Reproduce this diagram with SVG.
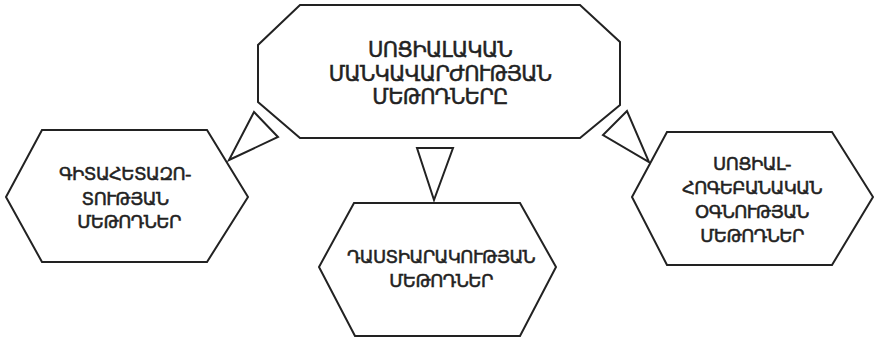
<svg xmlns="http://www.w3.org/2000/svg" width="875" height="339" viewBox="0 0 875 339">
<style>
.shape{fill:#fff;stroke:#222;stroke-width:2;stroke-linejoin:miter}
.arrow{fill:#fff;stroke:#222;stroke-width:2;stroke-linejoin:miter}
text{font-family:"DejaVu Sans","Noto Sans",sans-serif;fill:#222;stroke:#222;stroke-width:0.5;text-anchor:middle}
.big{font-size:21px;letter-spacing:-0.7px}
.small{font-size:18px;letter-spacing:-0.6px}
</style>
<rect width="875" height="339" fill="#fff"/>
<g id="node-main">
<polygon class="shape" points="300,5 580,5 620,42 620,105 580,138 300,138 258,102 258,45"/>
<text class="big" x="440" y="57">ՍՈՑԻԱԼԱԿԱՆ</text>
<text class="big" x="440" y="81">ՄԱՆԿԱՎԱՐԺՈՒԹՅԱՆ</text>
<text class="big" x="440" y="104">ՄԵԹՈԴՆԵՐԸ</text>
</g>
<g id="node-research">
<polygon class="shape" points="42,130 207,130 248,197 207,262 42,262 6,197"/>
<text class="small" x="125" y="180">ԳԻՏԱՀԵՏԱԶՈ-</text>
<text class="small" x="125" y="205">ՏՈՒԹՅԱՆ</text>
<text class="small" x="129" y="228">ՄԵԹՈԴՆԵՐ</text>
</g>
<g id="node-upbringing">
<polygon class="shape" points="354,203 520,203 556,267 520,336 355,336 319,267"/>
<text class="small" x="441" y="263">ԴԱՍՏԻԱՐԱԿՈՒԹՅԱՆ</text>
<text class="small" x="441" y="287">ՄԵԹՈԴՆԵՐ</text>
</g>
<g id="node-psych">
<polygon class="shape" points="667,132 832,132 873,197 832,265 667,265 632,197"/>
<text class="small" x="752" y="170">ՍՈՑԻԱԼ-</text>
<text class="small" x="752" y="194">ՀՈԳԵԲԱՆԱԿԱՆ</text>
<text class="small" x="752" y="218">ՕԳՆՈՒԹՅԱՆ</text>
<text class="small" x="752" y="242">ՄԵԹՈԴՆԵՐ</text>
</g>
<g id="connectors">
<polygon class="arrow" points="254,112 278,137 229,160"/>
<polygon class="arrow" points="417,148 453,148 434,200"/>
<polygon class="arrow" points="627,111 603,135 649,162"/>
</g>
</svg>
